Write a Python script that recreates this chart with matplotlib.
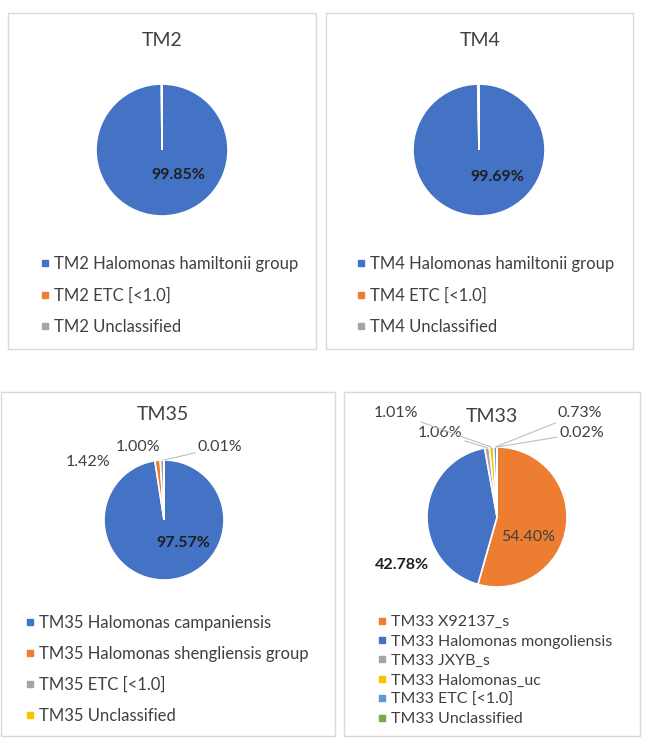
import numpy as np
import matplotlib
matplotlib.use("Agg")
import matplotlib.pyplot as plt
import matplotlib.transforms as mtransforms
from matplotlib.patches import Rectangle
from matplotlib.lines import Line2D

W, H = 650, 747

# ---- data ----
tm2_labels = ["TM2 Halomonas hamiltonii group", "TM2 ETC [<1.0]", "TM2 Unclassified"]
tm2_values = [99.85, 0.14, 0.01]

tm4_labels = ["TM4 Halomonas hamiltonii group", "TM4 ETC [<1.0]", "TM4 Unclassified"]
tm4_values = [99.69, 0.30, 0.01]

tm35_labels = ["TM35 Halomonas campaniensis", "TM35 Halomonas shengliensis group",
               "TM35 ETC [<1.0]", "TM35 Unclassified"]
tm35_values = [97.57, 1.42, 1.00, 0.01]

tm33_labels = ["TM33 X92137_s", "TM33 Halomonas mongoliensis", "TM33 JXYB_s",
               "TM33 Halomonas_uc", "TM33 ETC [<1.0]", "TM33 Unclassified"]
tm33_values = [54.40, 42.78, 1.06, 1.01, 0.73, 0.02]

BLUE, ORANGE, GRAY = '#4472C4', '#ED7D31', '#A5A5A5'
YELLOW, LBLUE, GREEN = '#FFC000', '#5B9BD5', '#70AD47'

plt.rcParams['font.family'] = ['Lato', 'DejaVu Sans']

fig = plt.figure(figsize=(W / 100, H / 100), dpi=100)
# pixel coordinates, origin top-left
px = mtransforms.Affine2D().scale(1 / W, -1 / H).translate(0, 1) + fig.transFigure


def panel(box, title, title_xy, center, r, values, colors, labels,
          leg_xy, leg_fs, leg_space, data_labels):
    x0, y0, x1, y1 = box
    fig.patches.append(Rectangle((x0, y0), x1 - x0, y1 - y0, transform=px,
                                 fill=False, edgecolor='#D9D9D9', lw=1))
    fig.text(title_xy[0], title_xy[1], title, transform=px, ha='center',
             va='center', fontsize=14, color='#404040')
    cx, cy = center
    ax = fig.add_axes([(cx - r) / W, 1 - (cy + r) / H, 2 * r / W, 2 * r / H])
    wedges, _ = ax.pie(values, colors=colors, startangle=90, counterclock=False,
                       wedgeprops=dict(edgecolor='white', linewidth=1.2))
    ax.set_xlim(-1, 1)
    ax.set_ylim(-1, 1)
    ax.axis('off')
    for idx, (tx, ty), bold, col, leader in data_labels:
        txt = f"{values[idx]:.2f}%"
        w = wedges[idx]
        ang = np.deg2rad((w.theta1 + w.theta2) / 2)
        if leader:
            ax.annotate(txt, xy=(np.cos(ang), np.sin(ang)), xycoords='data',
                        xytext=(tx, ty), textcoords=px, ha=leader, va='center',
                        fontsize=11.5, color='#404040', annotation_clip=False,
                        arrowprops=dict(arrowstyle='-', color='#BFBFBF', lw=0.8,
                                        shrinkA=0, shrinkB=0))
        else:
            fig.text(tx, ty, txt, transform=px, ha='center', va='center',
                     fontsize=11.5, color=col,
                     fontweight='bold' if bold else 'normal')
    handles = [Line2D([], [], marker='s', ls='', color=c, markersize=5) for c in colors]
    fig.legend(handles, labels, loc='upper left', bbox_to_anchor=leg_xy,
               bbox_transform=px, frameon=False, fontsize=leg_fs,
               handlelength=0.3, handletextpad=0.4, labelspacing=leg_space,
               borderpad=0, borderaxespad=0, labelcolor='#404040')


panel((7.5, 12.5, 315.5, 348.5), "TM2", (162, 41), (162, 150), 66,
      tm2_values, [BLUE, ORANGE, GRAY], tm2_labels, (42, 256), 12, 0.93,
      [(0, (178, 175), True, '#1F1F1F', None)])

panel((325.5, 12.5, 632.5, 348.5), "TM4", (480, 41), (479, 150), 66,
      tm4_values, [BLUE, ORANGE, GRAY], tm4_labels, (358, 256), 12, 0.93,
      [(0, (497, 177), True, '#1F1F1F', None)])

panel((0.5, 391.5, 334.5, 735.5), "TM35", (163, 415), (164, 520), 60,
      tm35_values, [BLUE, ORANGE, GRAY, YELLOW], tm35_labels, (27, 615), 12, 0.9,
      [(0, (183, 543), True, '#1F1F1F', None),
       (1, (88, 462), False, '#404040', None),
       (2, (138, 447), False, '#404040', None),
       (3, (198, 447), False, '#404040', 'left')])

panel((343.5, 391.5, 639.5, 735.5), "TM33", (492, 417), (497, 517), 70,
      tm33_values, [ORANGE, BLUE, GRAY, YELLOW, LBLUE, GREEN], tm33_labels,
      (380, 615), 11.5, 0.33,
      [(0, (528, 537), False, '#404040', None),
       (1, (402, 565), True, '#1F1F1F', None),
       (2, (462, 433), False, '#404040', 'right'),
       (3, (418, 413), False, '#404040', 'right'),
       (4, (558, 413), False, '#404040', 'left'),
       (5, (560, 433), False, '#404040', 'left')])

fig.savefig("out.png", dpi=100, facecolor='white')
